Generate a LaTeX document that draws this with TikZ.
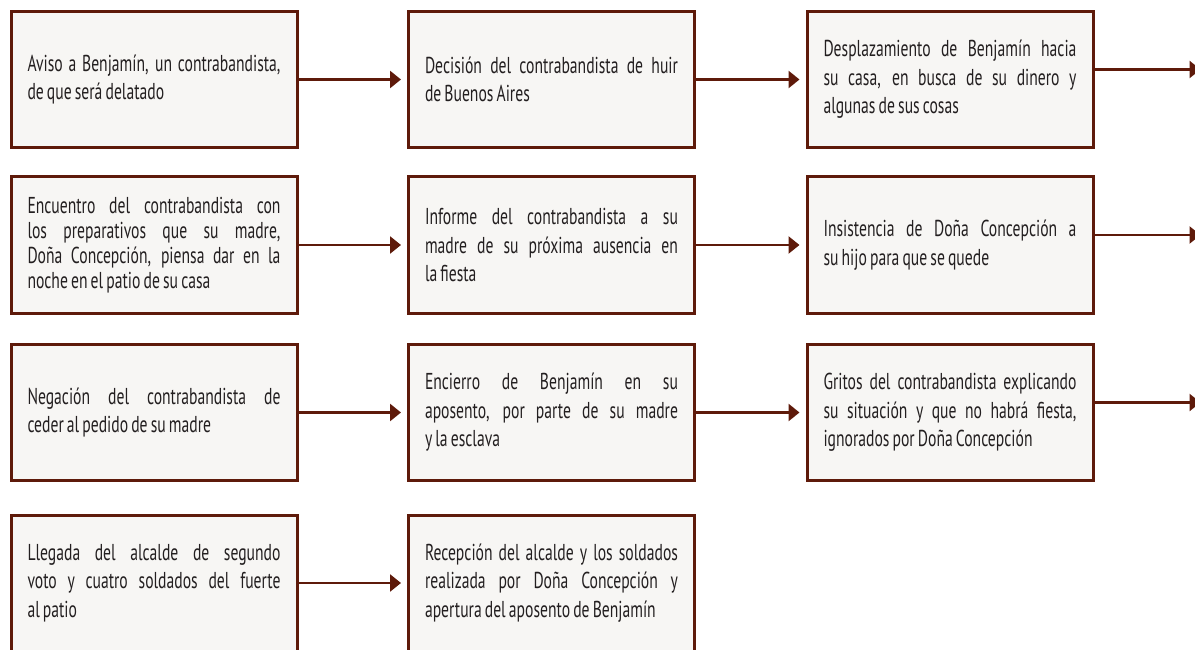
\documentclass[tikz,border=0pt]{standalone}
\usepackage{fontspec}
\setmainfont[FakeStretch=0.68,WordSpace={0.75,0.6,1}]{PT Sans}
\usetikzlibrary{arrows.meta}
\definecolor{brn}{RGB}{94,26,10}
\definecolor{boxfill}{RGB}{247,246,244}
\definecolor{txt}{RGB}{35,31,32}
\tikzset{
  evbox/.style={draw=brn, line width=3pt, fill=boxfill, minimum width=286pt,
    minimum height=136pt, text width=253pt, inner xsep=16.5pt, inner ysep=0pt,
    align=justify, text=txt, font=\fontsize{23}{28.5}\selectfont},
  flow/.style={draw=brn, line width=2.6pt, -{Triangle[length=11pt,width=17pt]}, shorten >=6pt},
  outflow/.style={draw=brn, line width=2.6pt, -{Triangle[length=11pt,width=17pt]}}
}
\begin{document}
\begin{tikzpicture}[x=1pt,y=-1pt]
\useasboundingbox (0,0) rectangle (1195,650);
\clip (0,0) rectangle (1195,650);
\hyphenpenalty=10000
% row 1
\node[evbox] (a1) at (154,79.5) {Aviso a Benjamín, un contrabandista,\linebreak de que será delatado};
\node[evbox] (a2) at (551.5,79.5) {Decisión del contrabandista de huir\linebreak de Buenos Aires};
\node[evbox] (a3) at (950,79.5) {Desplazamiento de Benjamín hacia\linebreak su casa, en busca de su dinero y\linebreak algunas de sus cosas};
% row 2
\node[evbox, font=\fontsize{23}{25}\selectfont] (b1) at (154,245) {Encuentro del contrabandista con\linebreak los preparativos que su madre,\linebreak Doña Concepción, piensa dar en la\linebreak noche en el patio de su casa};
\node[evbox] (b2) at (551.5,245) {Informe del contrabandista a su\linebreak madre de su próxima ausencia en\linebreak la fiesta};
\node[evbox] (b3) at (950,245) {Insistencia de Doña Concepción a\linebreak su hijo para que se quede};
% row 3
\node[evbox] (c1) at (154,412.5) {Negación del contrabandista de\linebreak ceder al pedido de su madre};
\node[evbox] (c2) at (551.5,412.5) {Encierro de Benjamín en su\linebreak aposento, por parte de su madre\linebreak y la esclava};
\node[evbox] (c3) at (950,412.5) {Gritos del contrabandista explicando\linebreak su situación y que no habrá fiesta,\linebreak ignorados por Doña Concepción};
% row 4
\node[evbox] (d1) at (154,583) {Llegada del alcalde de segundo\linebreak voto y cuatro soldados del fuerte\linebreak al patio};
\node[evbox] (d2) at (551.5,583) {Recepción del alcalde y los soldados\linebreak realizada por Doña Concepción y\linebreak apertura del aposento de Benjamín};
% connectors
\draw[flow] (a1) -- (a2);
\draw[flow] (a2) -- (a3);
\draw[flow] (b1) -- (b2);
\draw[flow] (b2) -- (b3);
\draw[flow] (c1) -- (c2);
\draw[flow] (c2) -- (c3);
\draw[flow] (d1) -- (d2);
\coordinate (o1) at ([yshift=10pt,xshift=106pt]a3.east);
\coordinate (o2) at ([yshift=10pt,xshift=106pt]b3.east);
\coordinate (o3) at ([yshift=10pt,xshift=106pt]c3.east);
\draw[outflow] ([yshift=10pt]a3.east) -- (o1);
\draw[outflow] ([yshift=10pt]b3.east) -- (o2);
\draw[outflow] ([yshift=10pt]c3.east) -- (o3);
\end{tikzpicture}
\end{document}
